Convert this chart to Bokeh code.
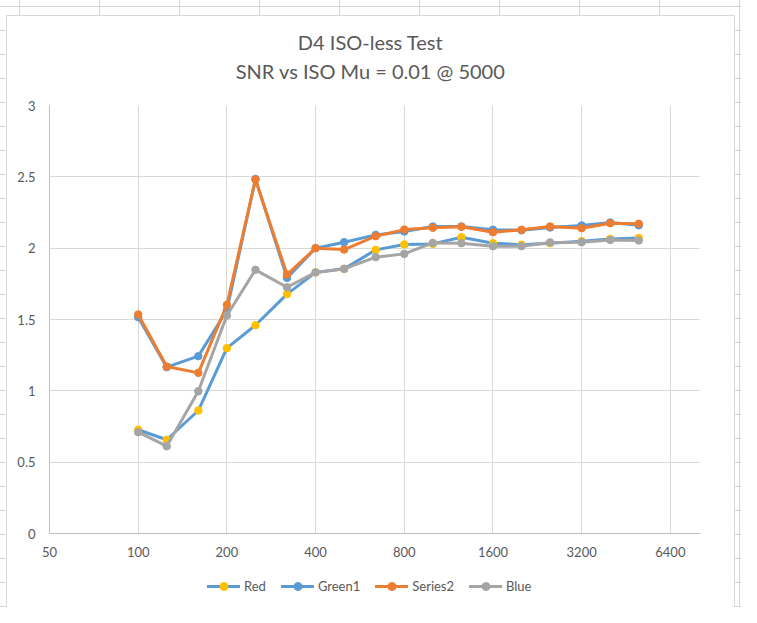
from bokeh.plotting import figure
from bokeh.layouts import column
from bokeh.models import (FixedTicker, PrintfTickFormatter, Legend, LegendItem, Label)
from bokeh.embed import file_html
from bokeh.resources import INLINE

# ---- data ----
iso = [100, 125, 160, 200, 250, 320, 400, 500, 640, 800, 1000, 1250, 1600, 2000, 2500, 3200, 4000, 5000]
red = [0.727, 0.657, 0.862, 1.299, 1.46, 1.678, 1.83, 1.855, 1.988, 2.026, 2.03, 2.077, 2.035, 2.024, 2.035, 2.049, 2.065, 2.072]
green1 = [1.516, 1.166, 1.243, 1.565, 2.485, 1.792, 2.0, 2.042, 2.093, 2.117, 2.152, 2.152, 2.129, 2.125, 2.145, 2.159, 2.18, 2.16]
series2 = [1.535, 1.17, 1.126, 1.603, 2.481, 1.815, 2.0, 1.99, 2.084, 2.13, 2.143, 2.15, 2.112, 2.129, 2.152, 2.14, 2.175, 2.171]
blue = [0.71, 0.612, 0.997, 1.528, 1.848, 1.726, 1.83, 1.855, 1.937, 1.96, 2.037, 2.035, 2.014, 2.014, 2.04, 2.042, 2.058, 2.054]

x_ticks = [50, 100, 200, 400, 800, 1600, 3200, 6400]
y_ticks = [0, 0.5, 1, 1.5, 2, 2.5, 3]
y_labels = ["0", "0.5", "1", "1.5", "2", "2.5", "3"]
series_names = ["Red", "Green1", "Series2", "Blue"]
title1 = "D4 ISO-less Test"
title2 = "SNR vs ISO Mu = 0.01 @ 5000"

FONT = "Lato"
TXT = "#595959"

bg = {
    "background-color": "white",
    "background-image": ", ".join([
        "linear-gradient(#ffffff, #ffffff)",
        "linear-gradient(#d9d9d9, #d9d9d9)",
        "linear-gradient(to right, #d4d4d4 1px, transparent 1px)",
        "linear-gradient(to bottom, #d4d4d4 1px, transparent 1px)",
    ]),
    "background-size": "727px 595px, 729px 597px, 80px 100%, 100% 24px",
    "background-position": "7px 16px, 6px 15px, 19px 0px, 0px 6px",
    "background-repeat": "no-repeat, no-repeat, repeat-x, repeat-y",
}


def strip(height, **kw):
    f = figure(width=741, height=height, output_backend="svg", toolbar_location=None,
               x_axis_location=None, y_axis_location=None,
               min_border_left=0, min_border_right=0, min_border_top=0, min_border_bottom=0, **kw)
    f.border_fill_color = None
    f.background_fill_color = None
    f.outline_line_color = None
    f.grid.visible = False
    return f


# ---- title strip ----
hdr = strip(90)
for txt, yy in ((title1, 49), (title2, 20)):
    hdr.add_layout(Label(x=321, y=yy, x_units="screen", y_units="screen", text=txt,
                         text_align="center", text_baseline="middle",
                         text_font=FONT, text_font_size="20px", text_color=TXT))

# ---- main chart ----
p = figure(width=741, height=472, x_axis_type="log", x_range=(50, 8100), y_range=(0, 3),
           output_backend="svg", toolbar_location=None,
           min_border_left=49, min_border_right=41, min_border_top=15, min_border_bottom=29)
p.border_fill_color = None
p.background_fill_color = None
p.outline_line_color = None

p.xaxis.ticker = FixedTicker(ticks=x_ticks)
p.xaxis.formatter = PrintfTickFormatter(format="%d")
p.yaxis.ticker = FixedTicker(ticks=y_ticks)
p.yaxis.major_label_overrides = {t: l for t, l in zip(y_ticks, y_labels)}
for ax in (p.xaxis, p.yaxis):
    ax.axis_line_color = "#bfbfbf"
    ax.axis_line_width = 1
    ax.major_tick_line_color = None
    ax.minor_tick_line_color = None
    ax.major_tick_out = 0
    ax.major_tick_in = 0
    ax.minor_tick_out = 0
    ax.minor_tick_in = 0
    ax.major_label_text_font = FONT
    ax.major_label_text_font_size = "13px"
    ax.major_label_text_color = TXT
p.xaxis.major_label_standoff = 13
p.yaxis.major_label_standoff = 14

p.xgrid.ticker = FixedTicker(ticks=x_ticks)
p.ygrid.ticker = FixedTicker(ticks=y_ticks)
p.grid.grid_line_color = "#d9d9d9"
p.grid.grid_line_width = 1
p.grid.minor_grid_line_color = None

styles = [
    (red, "#5b9bd5", "#ffc000"),
    (green1, "#5b9bd5", "#5b9bd5"),
    (series2, "#ed7d31", "#ed7d31"),
    (blue, "#a5a5a5", "#a5a5a5"),
]
for vals, lc, mc in styles:
    p.line(iso, vals, line_color=lc, line_width=3, line_join="round", line_cap="round")
    p.scatter(iso, vals, marker="circle", size=7.5, fill_color=mc, line_color=mc)

# ---- legend strip: same series, kept out of this strip's view so only legend entries show ----
leg = strip(45, x_axis_type="log", x_range=(50, 8100), y_range=(10, 11))
items = []
for name, (vals, lc, mc) in zip(series_names, styles):
    ln = leg.line(iso, vals, line_color=lc, line_width=3, line_cap="round")
    sc = leg.scatter(iso, vals, marker="circle", size=7.5, fill_color=mc, line_color=mc)
    items.append(LegendItem(label=name, renderers=[ln, sc]))
legend = Legend(items=items, orientation="horizontal", location=(158, 11),
                glyph_width=33, glyph_height=20, label_height=20, label_standoff=4, spacing=15,
                padding=0, margin=0, border_line_color=None, background_fill_alpha=0,
                label_text_font=FONT, label_text_font_size="13px", label_text_color=TXT)
leg.add_layout(legend)

layout = column(hdr, p, leg, spacing=0, styles=bg)
open("out.html", "w").write(file_html(layout, INLINE))
